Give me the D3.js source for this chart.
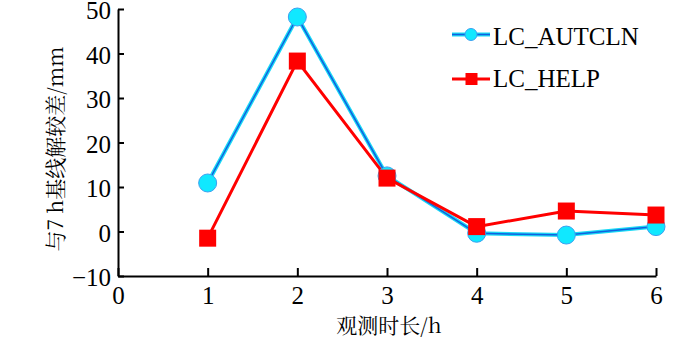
<!DOCTYPE html>
<html>
<head>
<meta charset="utf-8">
<script src="https://cdn.jsdelivr.net/npm/d3@7"></script>
</head>
<body style="margin:0;background:#fff">
<div id="chart"></div>
<script>
var hours = [1, 2, 3, 4, 5, 6];
var autcln = [10.9, 48.2, 12.5, -0.4, -0.8, 1.1];
var help = [-1.5, 38.3, 12, 1.1, 4.6, 3.7];
var xTicks = [0, 1, 2, 3, 4, 5, 6];
var yTicks = [-10, 0, 10, 20, 30, 40, 50];
var seriesNames = ["LC_AUTCLN", "LC_HELP"];

var serif = "'Liberation Serif', 'Times New Roman', serif";
var cjk = "'Noto Serif CJK SC', 'Noto Sans CJK SC', serif";

var width = 700, height = 339;
var svg = d3.select("#chart").append("svg")
  .attr("width", width)
  .attr("height", height);

var x = d3.scaleLinear().domain([0, 6]).range([118, 656]);
var y = d3.scaleLinear().domain([-10, 50]).range([276, 9]);

// axes, ticks pointing inward
var xAxis = d3.axisBottom(x).tickValues(xTicks).tickFormat(d3.format("d"))
  .tickSizeInner(-8).tickSizeOuter(0).tickPadding(10);
var yAxis = d3.axisLeft(y).tickValues(yTicks).tickFormat(d3.format("d"))
  .tickSizeInner(-6).tickSizeOuter(0).tickPadding(6);

var gx = svg.append("g").attr("transform", "translate(0," + y(-10) + ")").call(xAxis);
var gy = svg.append("g").attr("transform", "translate(" + x(0) + ",0)").call(yAxis);
[gx, gy].forEach(function(g) {
  g.select(".domain").attr("stroke", "#000").attr("stroke-width", 2);
  g.selectAll(".tick line").attr("stroke", "#000").attr("stroke-width", 2);
  g.selectAll(".tick text")
    .style("font-family", serif)
    .style("font-size", "25px")
    .attr("fill", "#000");
});
gx.selectAll(".tick text").attr("dy", "0.71em");
gy.selectAll(".tick text").attr("dx", "-1").attr("dy", "0.38em");

var line = d3.line()
  .x(function(d, i) { return x(hours[i]); })
  .y(function(d) { return y(d); });

// LC_AUTCLN: cyan line with blue core
svg.append("path").datum(autcln)
  .attr("fill", "none").attr("stroke", "#19d9f5").attr("stroke-width", 4)
  .attr("d", line);
svg.append("path").datum(autcln)
  .attr("fill", "none").attr("stroke", "#1060e0").attr("stroke-width", 1.5)
  .attr("d", line);

// LC_HELP
svg.append("path").datum(help)
  .attr("fill", "none").attr("stroke", "#ff0000").attr("stroke-width", 3)
  .attr("d", line);

svg.selectAll(".dot").data(autcln).enter().append("circle")
  .attr("class", "dot")
  .attr("cx", function(d, i) { return x(hours[i]); })
  .attr("cy", function(d) { return y(d); })
  .attr("r", 9)
  .attr("fill", "#10e8ff")
  .attr("stroke", "#3aa0f0")
  .attr("stroke-width", 1);

var sq = 17;
svg.selectAll(".sq").data(help).enter().append("rect")
  .attr("class", "sq")
  .attr("x", function(d, i) { return x(hours[i]) - sq / 2; })
  .attr("y", function(d) { return y(d) - sq / 2; })
  .attr("width", sq).attr("height", sq)
  .attr("fill", "#ff0000");

// legend
var leg = svg.append("g");
leg.append("line").attr("x1", 452).attr("x2", 490).attr("y1", 34.5).attr("y2", 34.5)
  .attr("stroke", "#19d9f5").attr("stroke-width", 4);
leg.append("line").attr("x1", 452).attr("x2", 490).attr("y1", 34.5).attr("y2", 34.5)
  .attr("stroke", "#1060e0").attr("stroke-width", 1.5);
leg.append("circle").attr("cx", 471).attr("cy", 34.5).attr("r", 6)
  .attr("fill", "#10e8ff").attr("stroke", "#3aa0f0").attr("stroke-width", 1);
leg.append("line").attr("x1", 452).attr("x2", 490).attr("y1", 79).attr("y2", 79)
  .attr("stroke", "#ff0000").attr("stroke-width", 3);
leg.append("rect").attr("x", 465.5).attr("y", 73).attr("width", 12).attr("height", 12)
  .attr("fill", "#ff0000");
leg.selectAll("text").data(seriesNames).enter().append("text")
  .attr("x", 493)
  .attr("y", function(d, i) { return 45 + i * 42; })
  .style("font-family", serif)
  .style("font-size", "25px")
  .text(function(d) { return d; });

// axis titles
svg.append("text")
  .attr("x", 389).attr("y", 333)
  .attr("text-anchor", "middle")
  .style("font-family", cjk)
  .style("font-size", "21px")
  .text("观测时长/h");

svg.append("text")
  .attr("transform", "translate(63,149) rotate(-90)")
  .attr("text-anchor", "middle")
  .style("font-family", cjk)
  .style("font-size", "21px")
  .text("与7 h基线解较差/mm");
</script>
</body>
</html>
